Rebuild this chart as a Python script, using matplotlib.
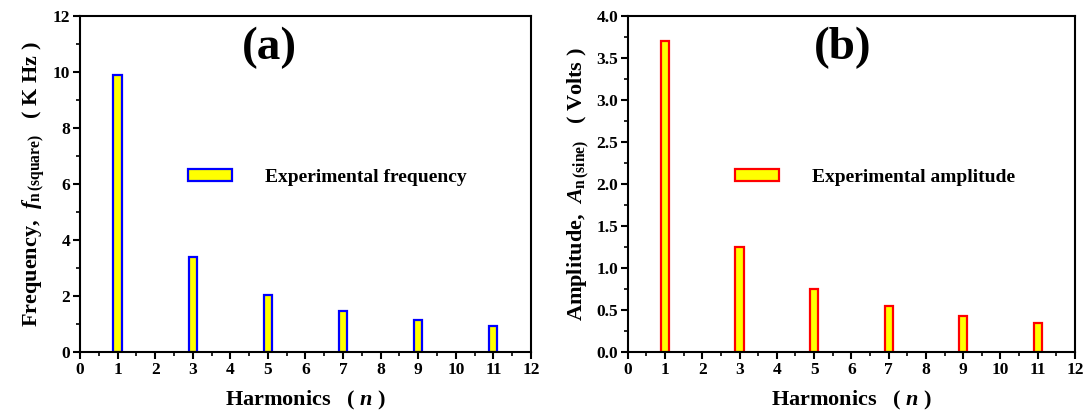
import matplotlib.pyplot as plt
import numpy as np

harmonics = [1, 3, 5, 7, 9, 11]
freq_khz = [9.9, 3.4, 2.05, 1.47, 1.13, 0.92]
amp_volts = [3.7, 1.25, 0.75, 0.55, 0.43, 0.35]

x_ticks = list(range(0, 13))

plt.rcParams["font.family"] = ["Liberation Serif", "DejaVu Serif"]
plt.rcParams["font.weight"] = "bold"
plt.rcParams["mathtext.fontset"] = "custom"
plt.rcParams["mathtext.rm"] = "Liberation Serif:bold"
plt.rcParams["mathtext.it"] = "Liberation Serif:italic:bold"
plt.rcParams["mathtext.bf"] = "Liberation Serif:bold"

fig = plt.figure(figsize=(10.88, 4.11), dpi=100)
ax1 = fig.add_axes([0.0735, 0.1436, 0.4145, 0.8175])
ax2 = fig.add_axes([0.577, 0.1436, 0.411, 0.8175])


def style_axis(ax, ymax, ymajor):
    ax.set_xlim(0, 12)
    ax.set_ylim(0, ymax)
    ax.set_xticks(x_ticks)
    ax.set_xticks(np.arange(0, 12.01, 0.5), minor=True)
    ax.set_yticks(np.arange(0, ymax + 1e-9, ymajor))
    ax.set_yticks(np.arange(0, ymax + 1e-9, ymajor / 2), minor=True)
    ax.tick_params(which="major", direction="out", length=5, width=1.5,
                   labelsize=12.5, pad=2)
    ax.tick_params(which="minor", direction="out", length=3, width=1.2)
    for s in ax.spines.values():
        s.set_linewidth(1.5)
    for lab in ax.get_xticklabels() + ax.get_yticklabels():
        lab.set_fontweight("bold")


# (a) frequency spectrum
ax1.bar(harmonics, freq_khz, width=0.22, color="#ffff00", edgecolor="#0000ff",
        linewidth=1.6, label="Experimental frequency")
style_axis(ax1, 12, 2)
ax1.set_yticklabels([str(int(v)) for v in np.arange(0, 13, 2)])
ax1.set_xlabel(r"Harmonics   ( $n$ )", fontsize=16, fontweight="bold", labelpad=8)
ax1.set_ylabel(r"Frequency,  $f_{\mathrm{n\,(square)}}$   ( K Hz )",
               fontsize=16, fontweight="bold", labelpad=4)
ax1.text(0.42, 0.905, "(a)", transform=ax1.transAxes, fontsize=34,
         fontweight="bold", ha="center", va="center")
ax1.legend(loc="center left", bbox_to_anchor=(0.2, 0.52), frameon=False,
           handlelength=2.3, handleheight=0.55, handletextpad=1.7,
           prop={"weight": "bold", "size": 14})

# (b) amplitude spectrum
ax2.bar(harmonics, amp_volts, width=0.22, color="#ffff00", edgecolor="#ff0000",
        linewidth=1.6, label="Experimental amplitude")
style_axis(ax2, 4.0, 0.5)
ax2.set_yticklabels([f"{v:.1f}" for v in np.arange(0, 4.01, 0.5)])
ax2.set_xlabel(r"Harmonics   ( $n$ )", fontsize=16, fontweight="bold", labelpad=8)
ax2.set_ylabel(r"Amplitude,  $A_{\mathrm{n\,(sine)}}$   ( Volts )",
               fontsize=16, fontweight="bold", labelpad=4)
ax2.text(0.48, 0.905, "(b)", transform=ax2.transAxes, fontsize=34,
         fontweight="bold", ha="center", va="center")
ax2.legend(loc="center left", bbox_to_anchor=(0.2, 0.52), frameon=False,
           handlelength=2.3, handleheight=0.55, handletextpad=1.7,
           prop={"weight": "bold", "size": 14})

fig.savefig("out.png", dpi=100)
